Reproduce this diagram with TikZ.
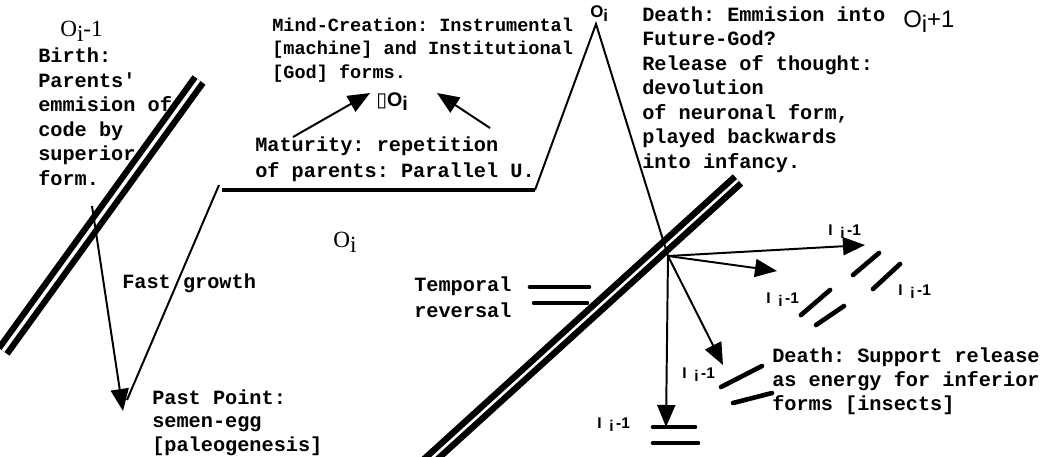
\documentclass[tikz,border=0pt]{standalone}
\usepackage{fontspec}
\setmainfont{Liberation Serif}
\setsansfont{Liberation Sans}
\setmonofont{Liberation Mono}
\newfontfamily\boxglyph{DejaVu Sans}
\usetikzlibrary{arrows.meta}
\newcommand\lowi{\raisebox{-0.25em}{i}}

\begin{document}
\begin{tikzpicture}[x=0.025cm,y=-0.025cm,>={Triangle[length=0.55cm,width=0.45cm]},
 note/.style={font=\ttfamily\bfseries\fontsize{14.4}{17.4}\selectfont,align=left,anchor=base west,inner sep=0pt},
 orb/.style={font=\fontsize{16.5}{18}\selectfont,anchor=base west,inner sep=0pt},
 iso/.style={font=\sffamily\bfseries\fontsize{11}{12}\selectfont,anchor=base west,inner sep=0pt},
 wall/.style={line width=4.5pt,double=white,double distance=2.4pt},
 bar/.style={line width=3.3pt,line cap=round},
 life/.style={line width=1.4pt},
 ray/.style={line width=1.4pt,->}]
\clip (0,0) rectangle (1045,456);
% labels of the stages
\node[orb] (prev) at (60,36) {O\lowi-1};
\node[orb] (cur) at (333,247) {O\lowi};
\node[orb,font=\sffamily\fontsize{17}{18}\selectfont] (next) at (903,27) {O\lowi+1};
\node[orb,font=\sffamily\bfseries\fontsize{12}{13}\selectfont] (peaklbl) at (590,17) {O\lowi};
\node[orb,font=\sffamily\bfseries\fontsize{14}{15}\selectfont] (oo) at (376,106) {{\boxglyph ▯}O\lowi};
% texts (anchored at the baseline of the last line)
\node[note] (birth) at (38,185) {Birth:\\Parents'\\emmision of\\code by\\superior\\form.};
\node[note,font=\ttfamily\bfseries\fontsize{13.2}{16.6}\selectfont] (mind) at (272,78) {Mind-Creation: Instrumental\\{}[machine] and Institutional\\{}[God] forms.};
\node[note,font=\ttfamily\bfseries\fontsize{14.4}{17.8}\selectfont] (maturity) at (255,177) {Maturity: repetition\\of parents: Parallel U.};
\node[note] (death) at (642,168) {Death: Emmision into\\Future-God?\\Release of thought:\\devolution\\of neuronal form,\\played backwards\\into infancy.};
\node[note] (fast) at (122,288) {Fast growth};
\node[note,font=\ttfamily\bfseries\fontsize{14.4}{16.7}\selectfont] (past) at (152,451) {Past Point:\\semen-egg\\{}[paleogenesis]};
\node[note,font=\ttfamily\bfseries\fontsize{14.4}{17.8}\selectfont] (temporal) at (414,317) {Temporal\\reversal};
\node[note,font=\ttfamily\bfseries\fontsize{14.4}{17}\selectfont] (support) at (772,410) {Death: Support release\\as energy for inferior\\forms [insects]};
\node[iso] (iso1) at (828,235) {I\enspace\lowi\,-1};
\node[iso] (iso2) at (898,295) {I\enspace\lowi\,-1};
\node[iso] (iso3) at (766,303) {I\enspace\lowi\,-1};
\node[iso] (iso4) at (682,378) {I\enspace\lowi\,-1};
\node[iso] (iso5) at (597,428) {I\enspace\lowi\,-1};
% walls and bars
\draw[wall] (199,80) -- (3,351);
\draw[wall,line width=4.6pt,double distance=1.8pt] (738,180) -- (410,478);
\draw[bar] (530,287) -- (589,287);
\draw[bar] (534,303) -- (587,303);
\draw[bar] (853,275) -- (879,253);
\draw[bar] (873,289) -- (900,264);
\draw[bar] (801,315) -- (830,290);
\draw[bar] (816,325) -- (844,306);
\draw[bar] (721,387) -- (762,366);
\draw[bar] (733,403) -- (772,393);
\draw[bar] (653,427) -- (695,427);
\draw[bar] (653,443) -- (698,443);
% life line
\coordinate (vbot) at (127,400);
\coordinate (vtop) at (219,185);
\coordinate (shelfL) at (222,190);
\coordinate (shelfR) at (535,190);
\coordinate (peak) at (596,24);
\coordinate (cross) at (668,256);
\draw[life] (vbot) -- (vtop);
\draw[line width=2.8pt] (shelfL) -- (shelfR);
\draw[life] (shelfR) -- (peak) -- (cross);
% arrows
\coordinate (birthpt) at (92,206);
\coordinate (egg) at (123,411);
\draw[ray] (birthpt) -- (egg);
\coordinate (mat1) at (293,137);
\coordinate (oo1) at (370,93);
\coordinate (mat2) at (490,128);
\coordinate (oo2) at (437,93);
\draw[ray] (mat1) -- (oo1);
\draw[ray] (mat2) -- (oo2);
\coordinate (t1) at (865,245);
\coordinate (t2) at (777,271);
\coordinate (t3) at (723,365);
\coordinate (t4) at (666,427);
\draw[ray] (cross) -- (t1);
\draw[ray] (cross) -- (t2);
\draw[ray] (cross) -- (t3);
\draw[ray] (cross) -- (t4);
\end{tikzpicture}
\end{document}
